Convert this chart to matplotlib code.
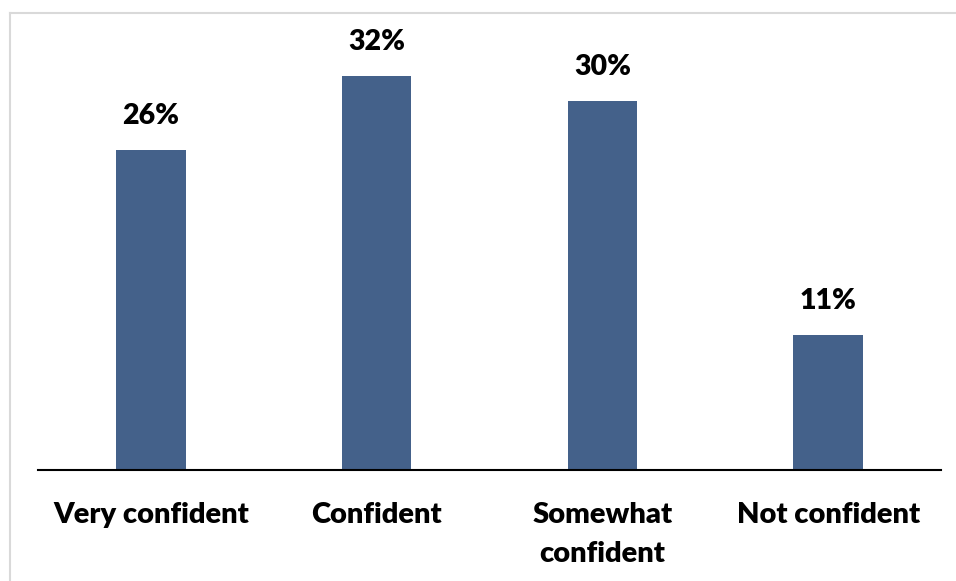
import matplotlib
matplotlib.use("Agg")
import matplotlib.pyplot as plt
from matplotlib.lines import Line2D

categories = ["Very confident", "Confident", "Somewhat\nconfident", "Not confident"]
values = [26, 32, 30, 11]
value_labels = ["26%", "32%", "30%", "11%"]

plt.rcParams['font.family'] = ['Lato', 'DejaVu Sans']

W, H = 956, 581
fig = plt.figure(figsize=(W/100, H/100), dpi=100)
ax = fig.add_axes([38/W, 111/H, (941-38)/W, (470-27)/H])

x = list(range(len(categories)))
bars = ax.bar(x, values, width=0.307, color='#44618A', zorder=2)
ax.set_xlim(-0.5, 3.5)
ax.set_ylim(0, 36)

for xi, v, lab in zip(x, values, value_labels):
    ax.annotate(lab, (xi, v), xytext=(0, 15), textcoords='offset points',
                ha='center', va='bottom', fontsize=20.5, fontweight='heavy', color='black')

ax.set_xticks(x)
ax.set_xticklabels(categories, fontsize=21, fontweight='heavy', linespacing=1.6, va='top')
ax.tick_params(axis='x', length=0, pad=23)
ax.set_yticks([])
for s in ['top', 'right', 'left']:
    ax.spines[s].set_visible(False)
ax.spines['bottom'].set_color('black')
ax.spines['bottom'].set_linewidth(1.5)

# outer chart border (top and left visible)
fig.add_artist(Line2D([10/W, 1], [1-13/H, 1-13/H], color='#d9d9d9', lw=1.5, transform=fig.transFigure))
fig.add_artist(Line2D([10/W, 10/W], [0, 1-13/H], color='#d9d9d9', lw=1.5, transform=fig.transFigure))

fig.savefig("out.png", dpi=100)
